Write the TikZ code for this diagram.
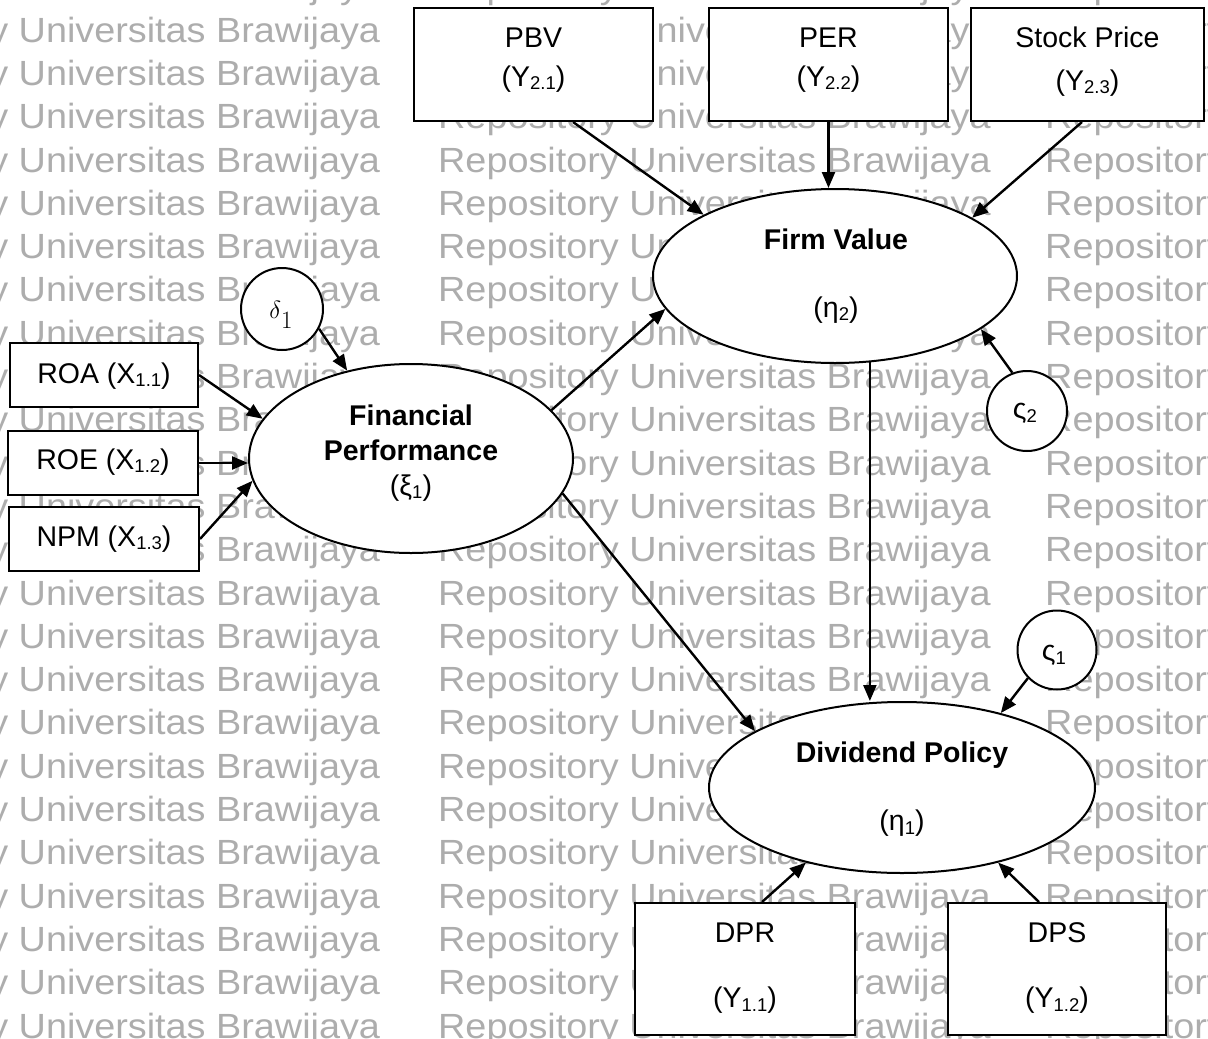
\documentclass[tikz,border=0pt]{standalone}
\usepackage{fontspec}
\usepackage{graphicx}
\setmainfont{Liberation Sans}
\usetikzlibrary{arrows.meta,calc,shapes.geometric}

% small lowered index used in the indicator and construct labels
\newcommand{\sbs}[1]{\raisebox{-0.14em}{\fontsize{18.5}{18.5}\selectfont #1}}
% one line of the repository stamp, slightly widened
\newcommand{\stampline}[1]{\scalebox{1.08}[1]{#1}}

\begin{document}
\begin{tikzpicture}[x=1pt,y=-1pt,
  every node/.style={font=\fontsize{28.5}{32}\selectfont},
  wm/.style={anchor=base west,inner sep=0pt,text=black!32,
    font=\fontsize{35}{40}\selectfont},
  ind/.style={draw,line width=2pt,fill=white,rectangle,inner sep=0pt},
  lat/.style={draw,line width=2pt,fill=white,ellipse,inner sep=0pt},
  err/.style={draw,line width=2pt,fill=white,circle,inner sep=0pt},
  lbl/.style={anchor=base,inner sep=0pt},
  arr/.style={draw,line width=2.4pt,-{Triangle[length=16pt,width=13pt]}}]

\useasboundingbox (0,0) rectangle (1208,1039);

% repository stamp in the background
\begin{scope}
  \clip (0,0) rectangle (1208,1039);
  \foreach \k in {0,...,24}{
    \pgfmathsetmacro{\yb}{-1.2+43.3*\k}
    \node[wm] (wmA\k) at (-172.6,\yb) {\stampline{Repository Universitas Brawijaya}};
    \node[wm] (wmB\k) at (438,\yb) {\stampline{Repository Universitas Brawijaya}};
    \node[wm] (wmC\k) at (1045,\yb) {\stampline{Repository}};
  }
\end{scope}

% indicators
\node[ind,minimum width=239pt,minimum height=113pt] (pbv) at (533.5,64.5) {};
\node[ind,minimum width=239pt,minimum height=113pt] (per) at (828.5,64.5) {};
\node[ind,minimum width=233pt,minimum height=113pt] (stock) at (1087.5,64.5) {};
\node[ind,minimum width=188pt,minimum height=64pt] (roa) at (104,375) {};
\node[ind,minimum width=190pt,minimum height=64pt] (roe) at (103,463) {};
\node[ind,minimum width=190pt,minimum height=64pt] (npm) at (104,539) {};
\node[ind,minimum width=220pt,minimum height=132pt] (dpr) at (745,969) {};
\node[ind,minimum width=218pt,minimum height=132pt] (dps) at (1057,969) {};

% latent constructs
\node[lat,minimum width=324pt,minimum height=189pt] (fp) at (411,458.5) {};
\node[lat,minimum width=364pt,minimum height=174pt] (fv) at (835,276) {};
\node[lat,minimum width=386pt,minimum height=171pt] (dp) at (902,787.5) {};

% disturbances
\node[err,minimum size=82pt] (d1) at (282,309) {};
\node[err,minimum size=80pt] (z2) at (1027,411) {};
\node[err,minimum size=79pt] (z1) at (1057,650) {};

% labels
\node[lbl] (pbvA) at (533.5,47) {PBV};
\node[lbl] (pbvB) at (533.5,86) {(Y\sbs{2.1})};
\node[lbl] (perA) at (828.5,47) {PER};
\node[lbl] (perB) at (828.5,86) {(Y\sbs{2.2})};
\node[lbl] (stockA) at (1087.5,47) {Stock Price};
\node[lbl] (stockB) at (1087.5,90) {(Y\sbs{2.3})};
\node[lbl] (roaA) at (104,383) {ROA (X\sbs{1.1})};
\node[lbl] (roeA) at (103,469) {ROE (X\sbs{1.2})};
\node[lbl] (npmA) at (104,546) {NPM (X\sbs{1.3})};
\node[lbl] (dprA) at (745,942) {DPR};
\node[lbl] (dprB) at (745,1007) {(Y\sbs{1.1})};
\node[lbl] (dpsA) at (1057,942) {DPS};
\node[lbl] (dpsB) at (1057,1007) {(Y\sbs{1.2})};
\node[lbl] (fpA) at (411,425) {\textbf{Financial}};
\node[lbl] (fpB) at (411,460) {\textbf{Performance}};
\node[lbl] (fpC) at (411,495) {(ξ\sbs{1})};
\node[lbl] (fvA) at (836,249) {\textbf{Firm Value}};
\node[lbl] (fvB) at (836,317) {(η\sbs{2})};
\node[lbl] (dpA) at (902,762) {\textbf{Dividend Policy}};
\node[lbl] (dpB) at (902,830) {(η\sbs{1})};
\node[lbl] (d1t) at (281,318)
  {\fontsize{26}{26}\selectfont$\delta$\raisebox{-0.42em}{$1$}};
\node[inner sep=0pt] (z2t) at (1025,413) {ς\sbs{2}};
\node[inner sep=0pt] (z1t) at (1054,655) {ς\sbs{1}};

% paths
\draw[arr] (d1.-28.5) -- (fp.126);
\draw[arr] (roa.east) -- (fp.165);
\draw[arr] (roe.east) -- (roe.east -| fp.west);
\draw[arr] (npm.east) -- (fp.188.9);
\draw[arr] ($(pbv.south)+(39.5,0)$) -- (fv.155.3);
\draw[arr] (per.south) -- (per.south |- fv.north);
\draw[arr] ($(stock.south)+(-5.5,0)$) -- (fv.23.2);
\draw[arr] (fp.19.9) -- (fv.191.2);
\draw[arr] (z2.111.5) -- (fv.-20.6);
\draw[arr] (fv.-68.3) -- (fv.-68.3 |- dp.north);
\draw[arr] (fp.-13.3) -- (dp.159.6);
\draw[arr] (z1.224) -- (dp.37.9);
\draw[arr] ($(dpr.north)+(17,0)$) -- (dp.-142.3);
\draw[arr] ($(dps.north)+(-18,0)$) -- (dp.-38);
\end{tikzpicture}
\end{document}
